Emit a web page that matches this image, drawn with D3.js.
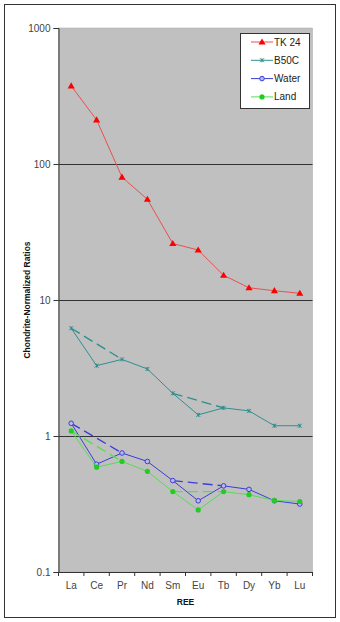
<!DOCTYPE html>
<html><head><meta charset="utf-8">
<script src="https://cdn.jsdelivr.net/npm/d3@7"></script>
<style>
html,body{margin:0;padding:0;background:#fff;}
svg{display:block;font-family:Arial,"Liberation Sans",sans-serif;}
</style></head>
<body>
<svg id="chart" width="340" height="622"></svg>
<script>
const categories = ["La","Ce","Pr","Nd","Sm","Eu","Tb","Dy","Yb","Lu"];
const tk24  = [375, 211, 80, 55, 26, 23.3, 15.2, 12.3, 11.7, 11.2];
const b50c  = [6.2, 3.29, 3.66, 3.11, 2.06, 1.43, 1.61, 1.53, 1.19, 1.19];
const water = [1.24, 0.62, 0.75, 0.65, 0.47, 0.334, 0.43, 0.405, 0.334, 0.316];
const land  = [1.09, 0.59, 0.65, 0.55, 0.39, 0.286, 0.39, 0.37, 0.336, 0.33];
const seriesNames = ["TK 24","B50C","Water","Land"];
const anomalyLinks = [["La","Pr"],["Sm","Tb"]];
const yTicks = [0.1, 1, 10, 100, 1000];
const yTitle = "Chondrite-Normalized Ratios";
const xTitle = "REE";

const svg = d3.select("#chart");
const L = 58.5, R = 312.5, T = 28, B = 572;

const x = d3.scalePoint().domain(categories).range([L, R]).padding(0.5);
const xb = d3.scaleBand().domain(categories).range([L, R]);
const y = d3.scaleLog().domain([0.1, 1000]).range([B, T]);

// outer border
svg.append("rect").attr("x",4.5).attr("y",4.5).attr("width",331).attr("height",613)
  .attr("fill","#fff").attr("stroke","#333").attr("stroke-width",1);

// plot area
svg.append("rect").attr("x",L).attr("y",T).attr("width",R-L).attr("height",B-T)
  .attr("fill","#c0c0c0").attr("stroke","#a8a8a8").attr("stroke-width",0.5);

// gridlines
svg.append("g").selectAll("line").data(yTicks.filter(v=>v>0.1 && v<1000)).join("line")
  .attr("x1",L).attr("x2",R).attr("y1",d=>Math.round(y(d))+0.5).attr("y2",d=>Math.round(y(d))+0.5)
  .attr("stroke","#333").attr("stroke-width",1.2);

// y axis
const yAxis = d3.axisLeft(y).tickValues(yTicks).tickFormat(d=>String(d)).tickSize(5).tickPadding(3);
const gy = svg.append("g").attr("transform",`translate(${L},0)`).call(yAxis);
gy.select(".domain").attr("stroke","#333");
gy.selectAll(".tick line").attr("stroke","#333");
gy.selectAll(".tick text").attr("font-size",10).attr("fill","#444").attr("font-family","Arial,'Liberation Sans',sans-serif");

// x axis
const gx = svg.append("g").attr("transform",`translate(0,${B})`);
gx.append("line").attr("x1",L).attr("x2",R).attr("y1",0.5).attr("y2",0.5).attr("stroke","#333");
const edges = categories.map(c=>xb(c)).concat([R]);
gx.selectAll("line.tk").data(edges).join("line").attr("class","tk")
  .attr("x1",d=>d).attr("x2",d=>d).attr("y1",0).attr("y2",4).attr("stroke","#333");
gx.selectAll("text").data(categories).join("text")
  .attr("x",d=>x(d)).attr("y",17).attr("text-anchor","middle")
  .attr("font-size",10).attr("fill","#444").text(d=>d);

// titles
svg.append("text").attr("x",(L+R)/2).attr("y",605).attr("text-anchor","middle")
  .attr("font-size",8.5).attr("font-weight","bold").attr("fill","#111").text(xTitle);
svg.append("text").attr("transform",`translate(30,${(T+B)/2}) rotate(-90)`).attr("text-anchor","middle")
  .attr("font-size",8.5).attr("font-weight","bold").attr("fill","#111").text(yTitle);

const series = [
  {name:seriesNames[0], values:tk24,  line:"#e8504f", color:"#ff0000", marker:"triangle"},
  {name:seriesNames[1], values:b50c,  line:"#2f8f8f", color:"#2f8f8f", marker:"cross"},
  {name:seriesNames[2], values:water, line:"#3c3cd8", color:"#3c3cd8", marker:"diamond"},
  {name:seriesNames[3], values:land,  line:"#55dd55", color:"#22cc22", marker:"circle"}
];

const lineGen = d3.line().x(d=>x(d.c)).y(d=>y(d.v));

function drawMarker(g, type, cx, cy, color){
  if(type==="triangle"){
    g.append("path").attr("d",d3.symbol(d3.symbolTriangle,22)()).attr("transform",`translate(${cx},${cy+0.5})`)
      .attr("fill",color);
  } else if(type==="cross"){
    g.append("path").attr("d",`M${cx-2},${cy-2}L${cx+2},${cy+2}M${cx-2},${cy+2}L${cx+2},${cy-2}M${cx},${cy-2}L${cx},${cy+2}`)
      .attr("stroke",color).attr("stroke-width",1).attr("fill","none");
  } else if(type==="diamond"){
    g.append("circle").attr("cx",cx).attr("cy",cy).attr("r",2.3)
      .attr("fill","#b8b8f0").attr("stroke",color).attr("stroke-width",1);
  } else {
    g.append("circle").attr("cx",cx).attr("cy",cy).attr("r",2.6)
      .attr("fill",color);
  }
}

series.forEach(s=>{
  const g = svg.append("g");
  const pts = categories.map((c,i)=>({c, v:s.values[i]}));
  // anomaly interpolation (dashed)
  anomalyLinks.forEach(([a,b])=>{
    const ia = categories.indexOf(a), ib = categories.indexOf(b);
    if(s.name==="TK 24") return;
    g.append("path").attr("d",lineGen([{c:a,v:s.values[ia]},{c:b,v:s.values[ib]}]))
      .attr("fill","none").attr("stroke",s.line).attr("stroke-width",1.4).attr("stroke-dasharray","10,5");
  });
  g.append("path").attr("d",lineGen(pts)).attr("fill","none").attr("stroke",s.line).attr("stroke-width",1);
  pts.forEach(p=>drawMarker(g, s.marker, x(p.c), y(p.v), s.color));
});

// legend
const lg = svg.append("g");
lg.append("rect").attr("x",240.5).attr("y",33.5).attr("width",69).attr("height",75)
  .attr("fill","#fff").attr("stroke","#333");
series.forEach((s,i)=>{
  const yy = 42 + i*18.3;
  lg.append("line").attr("x1",251).attr("x2",273).attr("y1",yy).attr("y2",yy).attr("stroke",s.line).attr("stroke-width",1);
  drawMarker(lg, s.marker, 262, yy, s.color);
  lg.append("text").attr("x",274).attr("y",yy+3.5).attr("font-size",10).attr("fill","#222").text(s.name);
});
</script>
</body></html>
